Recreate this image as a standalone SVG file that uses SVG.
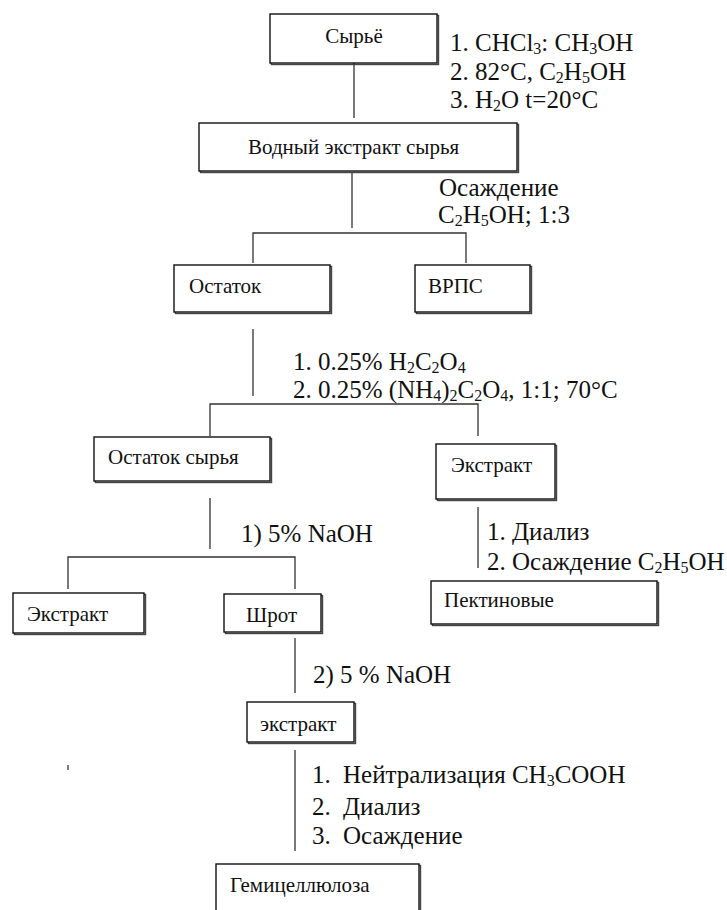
<svg xmlns="http://www.w3.org/2000/svg" width="727" height="910" viewBox="0 0 727 910">
<style>
text{font-family:'Liberation Serif','DejaVu Serif',serif}
.box{fill:#fff;stroke:#111;stroke-width:1.4}
.sh{fill:none;stroke:#444;stroke-width:1.4}
.n{font-size:21px;fill:#111}
.l{font-size:25px;fill:#111}
.s{font-size:16px;baseline-shift:-3px}
.c{stroke:#333;stroke-width:1.3;fill:none}
</style>
<rect width="727" height="910" fill="#fff"/>
<g id="connectors">
<path class="c" d="M354,63V118 M352,172V228 M253,263V233H466V263 M253,329V396 M210,436V404H478V436 M210,498V549 M68,589V557H295V589 M478,507V568 M295,638V693 M295,750V851"/>
<path class="c" d="M68,765V770" stroke-width="1.6"/>
</g>
<g id="labels" font-family="Liberation Serif, serif">
<text class="l" x="450" y="51">1. CHCl<tspan class="s">3</tspan>: CH<tspan class="s">3</tspan>OH</text>
<text class="l" x="450" y="80">2. 82°C, C<tspan class="s">2</tspan>H<tspan class="s">5</tspan>OH</text>
<text class="l" x="450" y="108">3. H<tspan class="s">2</tspan>O t=20°C</text>
<text class="l" x="439" y="196">Осаждение</text>
<text class="l" x="438" y="223">C<tspan class="s">2</tspan>H<tspan class="s">5</tspan>OH; 1:3</text>
<text class="l" x="293" y="370">1. 0.25% H<tspan class="s">2</tspan>C<tspan class="s">2</tspan>O<tspan class="s">4</tspan></text>
<text class="l" x="293" y="398">2. 0.25% (NH<tspan class="s">4</tspan>)<tspan class="s">2</tspan>C<tspan class="s">2</tspan>O<tspan class="s">4</tspan>, 1:1; 70°C</text>
<text class="l" x="241" y="542">1) 5% NaOH</text>
<text class="l" x="487" y="540">1. Диализ</text>
<text class="l" x="487" y="570">2. Осаждение C<tspan class="s">2</tspan>H<tspan class="s">5</tspan>OH</text>
<text class="l" x="313" y="683">2) 5 % NaOH</text>
<text class="l" x="312" y="783">1.</text>
<text class="l" x="343" y="783">Нейтрализация CH<tspan class="s">3</tspan>COOH</text>
<text class="l" x="312" y="815">2.</text>
<text class="l" x="343" y="815">Диализ</text>
<text class="l" x="312" y="844">3.</text>
<text class="l" x="343" y="844">Осаждение</text>
</g>
<g id="n-syrie"><rect class="sh" x="271.5" y="15.5" width="167" height="49"/><rect class="box" x="270" y="14" width="167" height="49"/><text class="n" x="354" y="43" text-anchor="middle">Сырьё</text></g>
<g id="n-vodny"><rect class="sh" x="200.5" y="124.5" width="318" height="48"/><rect class="box" x="199" y="123" width="318" height="48"/><text class="n" x="248" y="154">Водный экстракт сырья</text></g>
<g id="n-ostatok"><rect class="sh" x="175.5" y="266.5" width="156" height="47"/><rect class="box" x="174" y="265" width="156" height="47"/><text class="n" x="189" y="293">Остаток</text></g>
<g id="n-vrps"><rect class="sh" x="416.5" y="266.5" width="115" height="47"/><rect class="box" x="415" y="265" width="115" height="47"/><text class="n" x="428" y="293">ВРПС</text></g>
<g id="n-ostatok-syrya"><rect class="sh" x="95.5" y="438.5" width="176" height="44"/><rect class="box" x="94" y="437" width="176" height="44"/><text class="n" x="108" y="464">Остаток сырья</text></g>
<g id="n-ekstrakt-r"><rect class="sh" x="437.5" y="445.5" width="119" height="55"/><rect class="box" x="436" y="444" width="119" height="55"/><text class="n" x="451" y="472">Экстракт</text></g>
<g id="n-ekstrakt-l"><rect class="sh" x="14.5" y="594.5" width="131" height="40"/><rect class="box" x="13" y="593" width="131" height="40"/><text class="n" x="27" y="621">Экстракт</text></g>
<g id="n-shrot"><rect class="sh" x="225.5" y="595.5" width="97" height="38"/><rect class="box" x="224" y="594" width="97" height="38"/><text class="n" x="246" y="622">Шрот</text></g>
<g id="n-pektin"><rect class="sh" x="432.5" y="582.5" width="226" height="43"/><rect class="box" x="431" y="581" width="226" height="43"/><text class="n" x="444" y="607">Пектиновые</text></g>
<g id="n-ekstrakt-b"><rect class="sh" x="248.5" y="703.5" width="107" height="40"/><rect class="box" x="247" y="702" width="107" height="40"/><text class="n" x="260" y="731">экстракт</text></g>
<g id="n-gemi"><rect class="sh" x="217.5" y="865.5" width="203" height="60"/><rect class="box" x="216" y="864" width="203" height="60"/><text class="n" x="230" y="892">Гемицеллюлоза</text></g>
</svg>
